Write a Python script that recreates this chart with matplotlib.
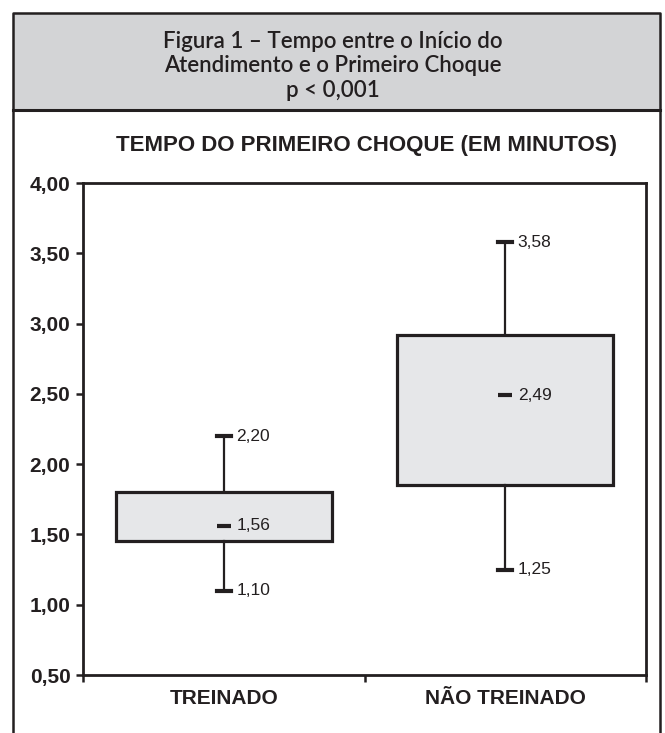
import matplotlib
matplotlib.use("Agg")
import matplotlib.pyplot as plt
from matplotlib.patches import Rectangle
from matplotlib.ticker import FuncFormatter

# dados (minutos)
grupos = ["TREINADO", "NÃO TREINADO"]
minimos = [1.10, 1.25]
q1 = [1.45, 1.85]
medianas = [1.56, 2.49]
q3 = [1.80, 2.92]
maximos = [2.20, 3.58]
yticks = [0.5, 1.0, 1.5, 2.0, 2.5, 3.0, 3.5, 4.0]

W, H = 665, 733
escuro = "#231f20"

fig = plt.figure(figsize=(W / 100, H / 100), dpi=100)


def fx(px):
    return px / W


def fy(py):
    return 1 - py / H


# moldura e cabecalho cinza
fig.patches.append(Rectangle((fx(13), fy(110)), fx(660) - fx(13), fy(13) - fy(110),
                             transform=fig.transFigure, facecolor="#d3d4d6",
                             edgecolor="none", zorder=0))
fig.add_artist(plt.Line2D([fx(13), fx(660)], [fy(110), fy(110)], transform=fig.transFigure,
                          color=escuro, lw=2.2))
fig.add_artist(plt.Line2D([fx(13), fx(13), fx(660), fx(660)], [fy(760), fy(13), fy(13), fy(760)],
                          transform=fig.transFigure, color=escuro, lw=1.8))

fig.text(0.5, fy(66), "Figura 1 – Tempo entre o Início do\nAtendimento e o Primeiro Choque\np < 0,001",
         ha="center", va="center", fontsize=16, family="Lato", fontweight="semibold",
         linespacing=1.22, color=escuro)
fig.text(fx(366), fy(145), "TEMPO DO PRIMEIRO CHOQUE (EM MINUTOS)", ha="center", va="center",
         fontsize=16, fontweight="bold", family="Liberation Sans", color=escuro)

ax = fig.add_axes([fx(83), fy(675), fx(646) - fx(83), fy(183) - fy(675)])

pos = [0.5, 1.5]
stats = []
for i in range(len(grupos)):
    stats.append({"med": medianas[i], "q1": q1[i], "q3": q3[i],
                  "whislo": minimos[i], "whishi": maximos[i], "fliers": []})

ax.bxp(stats, positions=pos, widths=0.767, patch_artist=True, showfliers=False,
       capwidths=0.05,
       boxprops=dict(facecolor="#e6e7e9", edgecolor=escuro, linewidth=2.3),
       whiskerprops=dict(color=escuro, linewidth=1.6),
       capprops=dict(color=escuro, linewidth=3.0),
       medianprops=dict(linewidth=0))
ax.hlines(medianas, [p - 0.025 for p in pos], [p + 0.025 for p in pos],
          color=escuro, linewidth=3.0, zorder=5)

for i, p in enumerate(pos):
    for v in (maximos[i], medianas[i], minimos[i]):
        ax.annotate(("%.2f" % v).replace(".", ","), (p, v), xytext=(9, 0),
                    textcoords="offset points", ha="left", va="center",
                    fontsize=12.5, family="Liberation Sans", color=escuro)

ax.set_xlim(0, 2)
ax.set_ylim(0.5, 4.0)
ax.set_yticks(yticks)
ax.yaxis.set_major_formatter(FuncFormatter(lambda v, _: ("%.2f" % v).replace(".", ",")))
ax.set_xticks([0, 1, 2])
ax.set_xticklabels([])
ax.set_xticks(pos, minor=True)
ax.set_xticklabels(grupos, minor=True)
ax.tick_params(axis="x", which="minor", length=0, pad=10)
ax.tick_params(axis="both", which="major", length=5, width=1.8, color=escuro)
ax.tick_params(axis="y", pad=4)
for lab in ax.get_yticklabels() + ax.get_xticklabels(minor=True):
    lab.set_fontfamily("Liberation Sans")
    lab.set_fontweight("bold")
    lab.set_fontsize(15)
    lab.set_color(escuro)
for s in ax.spines.values():
    s.set_linewidth(2.0)
    s.set_color(escuro)

fig.savefig("out.png", dpi=100)
